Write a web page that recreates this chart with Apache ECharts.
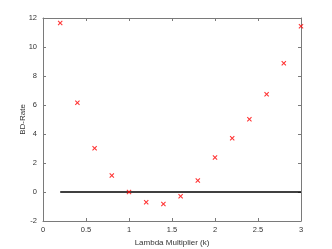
<!DOCTYPE html>
<html><head><meta charset="utf-8">
<script src="https://cdn.jsdelivr.net/npm/echarts@6/dist/echarts.min.js"></script>
<style>html,body{margin:0;padding:0;background:#fff}#c{width:332px;height:249px}</style>
</head><body><div id="c"></div>
<script>
const lambdaK = [0.2,0.4,0.6,0.8,1.0,1.2,1.4,1.6,1.8,2.0,2.2,2.4,2.6,2.8,3.0];
const bdRate = [11.65,6.15,3.02,1.14,0.0,-0.70,-0.82,-0.29,0.79,2.38,3.71,5.02,6.75,8.88,11.43];
const refLineX = [0.2,3.0];
const refLineY = [0,0];

const axisColor = '#7a7a7a';
const labelColor = '#333';
const xMark = 'path://M0,1.5L1.5,0L5,3.5L8.5,0L10,1.5L6.5,5L10,8.5L8.5,10L5,6.5L1.5,10L0,8.5L3.5,5Z';

const chart = echarts.init(document.getElementById('c'));
const common = {
  axisLine:{show:true,onZero:false,lineStyle:{color:axisColor,width:1}},
  axisTick:{show:true,inside:true,length:3,lineStyle:{color:axisColor}},
  splitLine:{show:false}
};
chart.setOption({
  animation:false,
  grid:{left:43,right:31,top:18,bottom:28,outerBoundsMode:'none',containLabel:false},
  xAxis:[
    Object.assign({type:'value',min:0,max:3,interval:0.5,position:'bottom',
      name:'Lambda Multiplier (k)',nameLocation:'middle',nameGap:18,nameMoveOverlap:false,
      nameTextStyle:{fontSize:8,color:labelColor,fontFamily:'Liberation Sans'},
      axisLabel:{fontSize:7.5,color:labelColor,margin:5,fontFamily:'Liberation Sans'}},common),
    Object.assign({type:'value',min:0,max:3,interval:0.5,position:'top',
      axisLabel:{show:false}},common)
  ],
  yAxis:[
    Object.assign({type:'value',min:-2,max:12,interval:2,position:'left',
      name:'BD-Rate',nameLocation:'middle',nameGap:16,nameRotate:90,nameMoveOverlap:false,
      nameTextStyle:{fontSize:8,color:labelColor,fontFamily:'Liberation Sans'},
      axisLabel:{fontSize:7.5,color:labelColor,margin:6,fontFamily:'Liberation Sans'}},common),
    Object.assign({type:'value',min:-2,max:12,interval:2,position:'right',
      axisLabel:{show:false}},common)
  ],
  series:[
    {type:'line',data:refLineX.map((x,i)=>[x,refLineY[i]]),symbol:'none',
     lineStyle:{color:'#000',width:1.6},z:2},
    {type:'scatter',data:lambdaK.map((x,i)=>[x,bdRate[i]]),symbol:xMark,symbolSize:5,
     itemStyle:{color:'#ff0000'},z:3}
  ]
});
</script></body></html>
